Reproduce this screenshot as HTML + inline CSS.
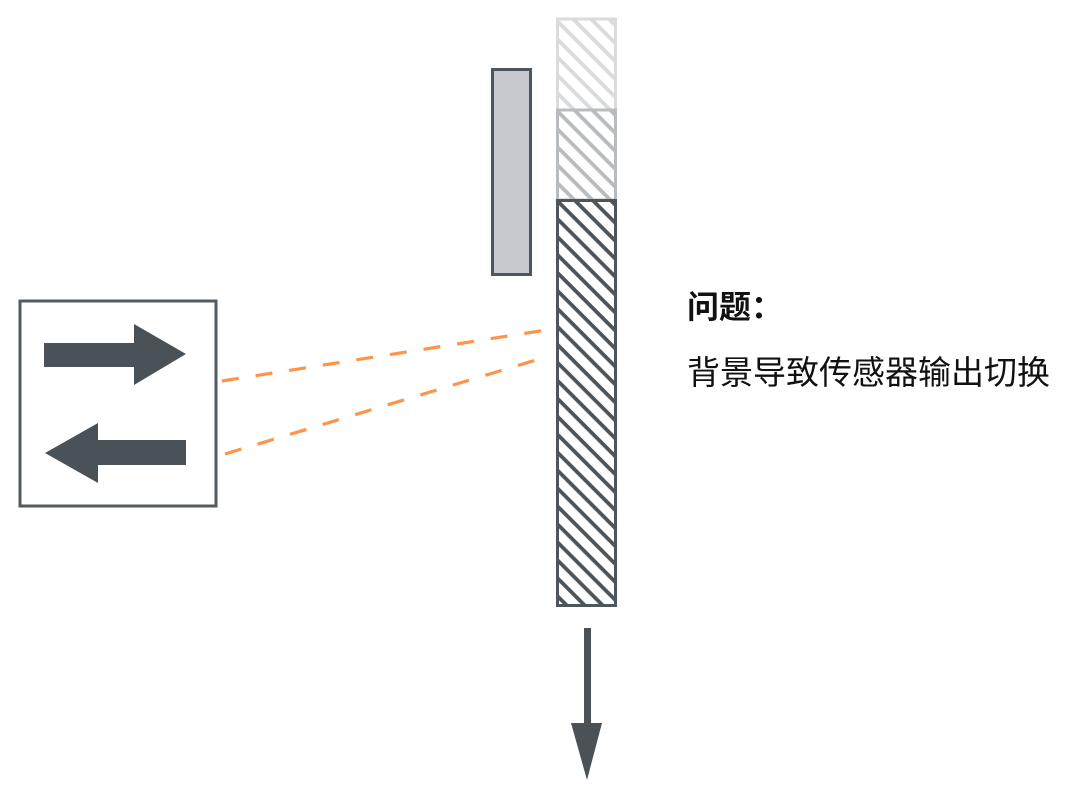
<!DOCTYPE html>
<html><head><meta charset="utf-8"><style>
html,body{margin:0;padding:0;background:#fff;width:1080px;height:794px;overflow:hidden}
svg{position:absolute;left:0;top:0}
.t{position:absolute;font-family:"Liberation Sans","Noto Sans CJK SC",sans-serif;color:#111;white-space:nowrap;line-height:1}
</style></head><body>
<svg width="1080" height="794" viewBox="0 0 1080 794">
<defs>
<pattern id="pd" patternUnits="userSpaceOnUse" width="12.7" height="12.7" patternTransform="rotate(45)">
<rect x="0" y="0" width="12.7" height="3.8" fill="#4d555b"/></pattern>
<pattern id="pm" patternUnits="userSpaceOnUse" width="12.7" height="12.7" patternTransform="rotate(45)">
<rect x="0" y="0" width="12.7" height="3.8" fill="#b9bcbf"/></pattern>
<pattern id="pl" patternUnits="userSpaceOnUse" width="12.7" height="12.7" patternTransform="rotate(45)">
<rect x="0" y="0" width="12.7" height="3.8" fill="#d9dbdd"/></pattern>
</defs>
<rect x="20" y="301" width="196" height="205" fill="#fff" stroke="#545b60" stroke-width="3"/>
<polygon points="44,343 134,343 134,324 186,354 134,385 134,367 44,367" fill="#4b5257"/>
<polygon points="186,440 98,440 98,423 45,453 98,483 98,465 186,465" fill="#4b5257"/>
<rect x="492.5" y="69.5" width="38" height="205" fill="#c6c9cd" stroke="#4f565b" stroke-width="3"/>
<rect x="557.5" y="19" width="58" height="91" fill="url(#pl)" stroke="#d9dbdd" stroke-width="3"/>
<rect x="557.5" y="110" width="58" height="90" fill="url(#pm)" stroke="#b9bcbf" stroke-width="3"/>
<rect x="557.5" y="200.5" width="58" height="405" fill="url(#pd)" stroke="#4f565b" stroke-width="3"/>
<line x1="222" y1="381" x2="546" y2="330" stroke="#ff9449" stroke-width="3.2" stroke-dasharray="17,17"/>
<line x1="225" y1="454" x2="546" y2="357" stroke="#ff9449" stroke-width="3.2" stroke-dasharray="17,17"/>
<rect x="584" y="628" width="7" height="98" fill="#4b5257"/>
<polygon points="571,723 602,723 587,780" fill="#4b5257"/>
</svg>
<div class="t" style="left:687px;top:291px;font-size:32px;font-weight:bold">问题：</div>
<div class="t" style="left:687px;top:356px;font-size:33px">背景导致传感器输出切换</div>
</body></html>
